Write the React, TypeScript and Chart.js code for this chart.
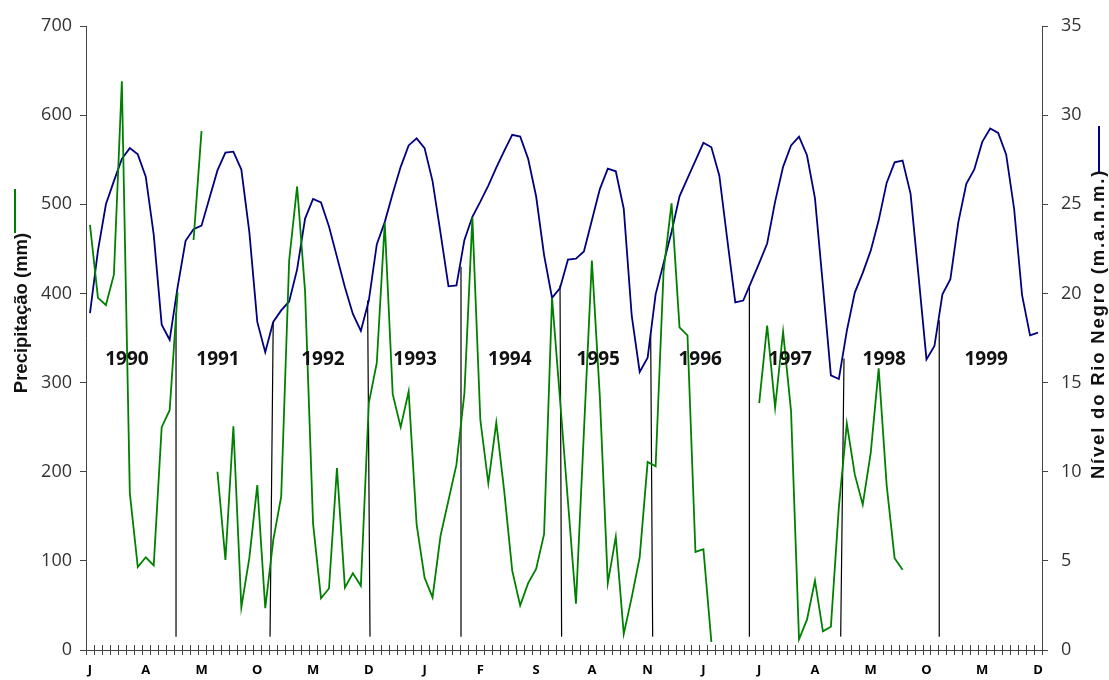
import React, { useEffect, useRef } from "react";
import { Chart, registerables } from "chart.js";

Chart.register(...registerables);

// ---------- data ----------
const monthLetters = ["J", "F", "M", "A", "M", "J", "J", "A", "S", "O", "N", "D"];
const years = [1990, 1991, 1992, 1993, 1994, 1995, 1996, 1997, 1998, 1999];
const categories: string[] = years.flatMap(() => monthLetters);
const labelEvery = 7;

// Precipitação (mm), monthly, Jan 1990 – Dec 1999 (null = no data)
const precipitation: (number | null)[] = [
  477, 395, 387, 421, 638, 176, 93, 104, 95, 250, 269, 401,
  null, 460, 582, null, 200, 101, 251, 48, 103, 185, 47, 123,
  172, 437, 520, 402, 142, 58, 69, 204, 70, 86, 72, 277,
  322, 479, 287, 250, 290, 141, 81, 59, 128, 168, 208, 288,
  485, 258, 187, 255, 178, 89, 50, 75, 91, 130, 395, 281,
  166, 52, 245, 437, 284, 75, 127, 18, 59, 104, 211, 206,
  425, 501, 362, 353, 110, 113, 9, null, null, null, null, null,
  277, 364, 272, 357, 268, 12, 34, 78, 21, 26, 160, 254,
  197, 163, 221, 316, 185, 103, 90, null, null, null, null, null,
  null, null, null, null, null, null, null, null, null, null, null, null,
];

// Nível do Rio Negro (m.a.n.m.), monthly
const riverLevel: number[] = [
  18.9, 22.4, 25.0, 26.3, 27.55, 28.15, 27.8, 26.55, 23.3, 18.25, 17.4, 20.35,
  22.95, 23.6, 23.8, 25.35, 26.9, 27.9, 27.95, 26.95, 23.45, 18.4, 16.7, 18.4,
  19.05, 19.55, 21.35, 24.2, 25.3, 25.1, 23.75, 22.05, 20.35, 18.85, 17.9, 19.6,
  22.75, 24.0, 25.6, 27.1, 28.3, 28.7, 28.15, 26.3, 23.4, 20.4, 20.45, 23.0,
  24.3, 25.15, 26.05, 27.05, 28.0, 28.9, 28.8, 27.55, 25.45, 22.15, 19.75, 20.3,
  21.9, 21.95, 22.35, 24.1, 25.85, 27.0, 26.85, 24.75, 18.75, 15.6, 16.4, 19.95,
  21.7, 23.45, 25.45, 26.45, 27.45, 28.45, 28.2, 26.6, 23.0, 19.5, 19.6, 20.65,
  21.7, 22.8, 25.15, 27.1, 28.3, 28.8, 27.75, 25.35, 20.45, 15.4, 15.2, 17.9,
  20.05, 21.15, 22.4, 24.1, 26.2, 27.35, 27.45, 25.6, 21.0, 16.3, 17.05, 19.95,
  20.8, 24.0, 26.15, 26.95, 28.5, 29.25, 29.0, 27.8, 24.75, 19.9, 17.65, 17.8,
];

// year separators (month-index positions and river level at top)
const sepBottomX = [10.8, 22.6, 35.15, 46.57, 59.2, 70.63, 82.77, 94.23, 106.6];
const sepTopX = [10.8, 23.0, 34.85, 46.57, 59.0, 70.38, 82.77, 94.65, 106.6];
const sepTopLevel = [18.9, 18.4, 19.6, 21.5, 20.45, 17.7, 20.45, 16.35, 18.5];
const sepBottomLevel = 0.75;

// year labels
const yearLabels = ["1990", "1991", "1992", "1993", "1994", "1995", "1996", "1997", "1998", "1999"];
const yearLabelPos = [4.64, 16.07, 29.24, 40.8, 52.7, 63.8, 76.6, 87.9, 99.7, 112.5];
const yearLabelValue = 326; // on precipitation axis

const precipTitle = "Precipitação (mm)";
const levelTitle = "Nível do Rio Negro (m.a.n.m.)";

const GREEN = "#008000";
const NAVY = "#000080";
const FONT = "'Open Sans', 'DejaVu Sans', sans-serif";
const TITLE_FONT = "'Liberation Sans', Arial, sans-serif";

const sepData: { x: number; y: number | null }[] = [];
sepBottomX.forEach((bx, i) => {
  sepData.push({ x: bx, y: sepBottomLevel });
  sepData.push({ x: sepTopX[i], y: sepTopLevel[i] });
  sepData.push({ x: sepTopX[i], y: null });
});

const decorPlugin = {
  id: "decor",
  afterDraw(chart: any) {
    const { ctx, chartArea } = chart;
    const x2 = chart.scales.x2;
    const y = chart.scales.y;
    ctx.save();
    // month tick marks crossing the x axis
    ctx.strokeStyle = "#444";
    ctx.lineWidth = 1;
    for (let k = 0; k <= categories.length; k++) {
      const px = Math.round(x2.getPixelForValue(k - 0.5)) + 0.5;
      ctx.beginPath();
      ctx.moveTo(px, chartArea.bottom - 5);
      ctx.lineTo(px, chartArea.bottom + 5);
      ctx.stroke();
    }
    // year labels
    ctx.font = `bold 19px ${FONT}`;
    ctx.fillStyle = "#111";
    ctx.textAlign = "center";
    ctx.textBaseline = "middle";
    yearLabels.forEach((t, i) => {
      ctx.fillText(t, x2.getPixelForValue(yearLabelPos[i]), y.getPixelForValue(yearLabelValue));
    });
    // axis titles
    ctx.font = `bold 18.5px ${TITLE_FONT}`;
    ctx.fillStyle = "#111";
    ctx.save();
    ctx.translate(22, 313);
    ctx.rotate(-Math.PI / 2);
    ctx.fillText(precipTitle, 0, 0);
    ctx.restore();
    ctx.save();
    ctx.translate(1099, 324);
    ctx.rotate(-Math.PI / 2);
    (ctx as any).letterSpacing = "1.8px";
    ctx.fillText(levelTitle, 0, 0);
    (ctx as any).letterSpacing = "0px";
    ctx.restore();
    // legend marks
    ctx.lineWidth = 2;
    ctx.strokeStyle = GREEN;
    ctx.beginPath();
    ctx.moveTo(15, 189);
    ctx.lineTo(15, 233);
    ctx.stroke();
    ctx.strokeStyle = NAVY;
    ctx.beginPath();
    ctx.moveTo(1099, 126);
    ctx.lineTo(1099, 172);
    ctx.stroke();
    ctx.restore();
  },
};

export default function App() {
  const ref = useRef<HTMLCanvasElement | null>(null);
  useEffect(() => {
    if (!ref.current) return;
    const chart = new Chart(ref.current, {
      type: "line",
      data: {
        labels: categories,
        datasets: [
          {
            label: precipTitle,
            data: precipitation,
            borderColor: GREEN,
            borderWidth: 1.8,
            pointRadius: 0,
            tension: 0,
            spanGaps: false,
            xAxisID: "x",
            yAxisID: "y",
          },
          {
            label: levelTitle,
            data: riverLevel,
            borderColor: NAVY,
            borderWidth: 1.8,
            pointRadius: 0,
            tension: 0,
            xAxisID: "x",
            yAxisID: "y2",
          },
          {
            label: "sep",
            data: sepData as any,
            borderColor: "#000",
            borderWidth: 1.2,
            pointRadius: 0,
            tension: 0,
            spanGaps: false,
            xAxisID: "x2",
            yAxisID: "y2",
          },
        ],
      },
      options: {
        animation: false,
        responsive: false,
        layout: { padding: { top: 26, bottom: 0, left: 0, right: 0 } },
        plugins: { legend: { display: false }, tooltip: { enabled: false } },
        scales: {
          x: {
            type: "category",
            offset: true,
            grid: { offset: true, drawOnChartArea: false, drawTicks: false },
            border: { color: "#444", width: 1 },
            ticks: {
              autoSkip: false,
              maxRotation: 0,
              minRotation: 0,
              padding: 12,
              color: "#000",
              font: { family: FONT, size: 13, weight: "bold" },
              callback: (_v: any, i: number) => (i % labelEvery === 0 ? categories[i] : ""),
            },
            afterFit: (s: any) => {
              s.height = 30;
            },
          },
          x2: { type: "linear", display: false, min: -0.5, max: categories.length - 0.5 },
          y: {
            position: "left",
            min: 0,
            max: 700,
            ticks: { stepSize: 100, padding: 8, color: "#333", font: { family: FONT, size: 18 } },
            grid: { drawOnChartArea: false, tickLength: 6, color: "#444" },
            border: { color: "#444", width: 1 },
            afterFit: (s: any) => {
              s.width = 86;
            },
          },
          y2: {
            position: "right",
            min: 0,
            max: 35,
            ticks: { stepSize: 5, padding: 13, color: "#333", font: { family: FONT, size: 18 } },
            grid: { drawOnChartArea: false, tickLength: 6, color: "#444" },
            border: { color: "#444", width: 1 },
            afterFit: (s: any) => {
              s.width = 67;
            },
          },
        },
      },
      plugins: [decorPlugin],
    });
    return () => chart.destroy();
  }, []);
  return (
    <div style={{ position: "absolute", left: 0, top: 0, width: 1109, height: 680, background: "#fff" }}>
      <canvas ref={ref} width={1109} height={680} style={{ display: "block" }} />
    </div>
  );
}
